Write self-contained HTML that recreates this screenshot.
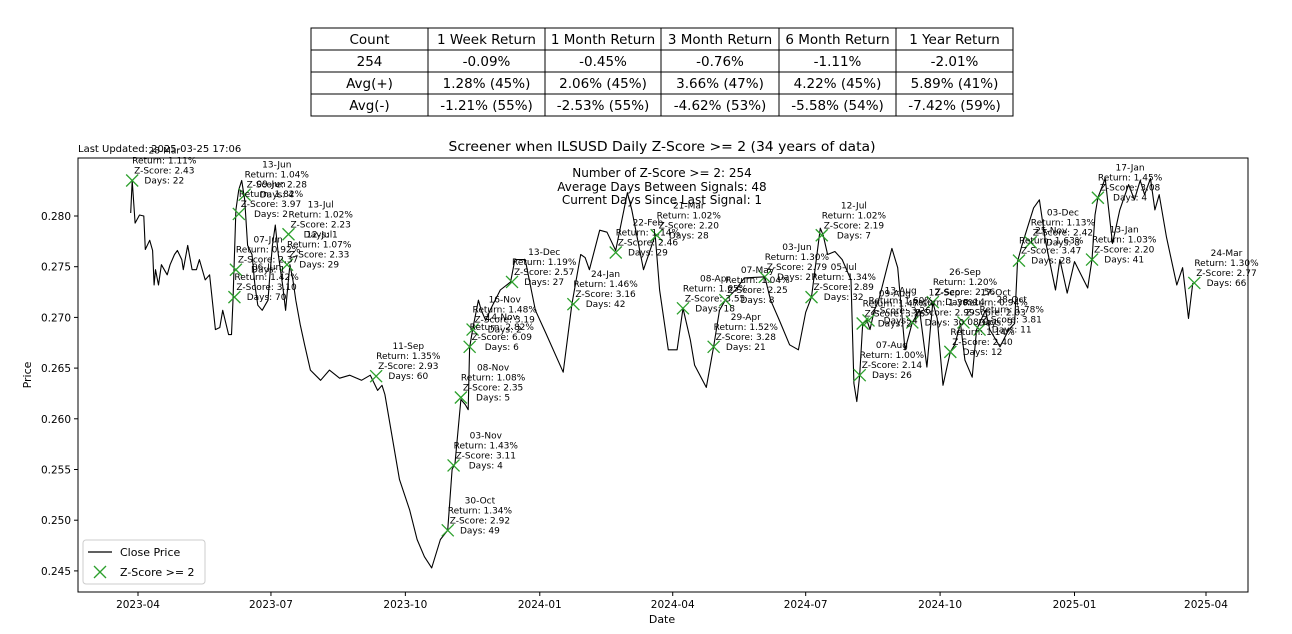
<!DOCTYPE html>
<html><head><meta charset="utf-8">
<style>
html,body{margin:0;padding:0;background:#fff;}
svg{display:block;font-family:"DejaVu Sans","Liberation Sans",sans-serif;}
</style></head>
<body>
<svg id="chart" width="1292" height="634" viewBox="0 0 1292 634" xmlns="http://www.w3.org/2000/svg">
  <rect width="1292" height="634" fill="#fff"/>
  <g id="table"></g>
  <text x="78" y="152" font-size="10" fill="#000">Last Updated: 2025-03-25 17:06</text>
  <text x="662" y="151" font-size="13.5" text-anchor="middle" textLength="427" lengthAdjust="spacingAndGlyphs" fill="#000">Screener when ILSUSD Daily Z-Score &gt;= 2 (34 years of data)</text>
  <rect x="78" y="158" width="1170" height="434" fill="none" stroke="#000" stroke-width="1"/>
  <g id="stats" font-size="12" text-anchor="middle" fill="#000">
    <text x="662" y="177">Number of Z-Score &gt;= 2: 254</text>
    <text x="662" y="191">Average Days Between Signals: 48</text>
    <text x="662" y="204">Current Days Since Last Signal: 1</text>
  </g>
  <g id="xaxis"></g>
  <g id="yaxis"></g>
  <text x="662" y="623" font-size="11" text-anchor="middle">Date</text>
  <text x="0" y="0" font-size="11" text-anchor="middle" transform="translate(31,375) rotate(-90)">Price</text>
  <g id="series"></g>
  <g id="annots" font-size="9" fill="#000"></g>
  <g>
    <rect x="83" y="540" width="122" height="44" rx="3" fill="#fff" fill-opacity="0.8" stroke="#ccc"/>
    <line x1="88" y1="552" x2="112" y2="552" stroke="#000" stroke-width="1.3"/>
    <text x="120" y="556" font-size="11">Close Price</text>
    <g stroke="#2ca02c" stroke-width="1.3"><line x1="94" y1="566" x2="106" y2="578"/><line x1="106" y1="566" x2="94" y2="578"/></g>
    <text x="120" y="576" font-size="11">Z-Score &gt;= 2</text>
  </g>
</svg>
<script>
// Close price series: days since 2023-04-01, price
const lineDays = [-5,-4,-2,1,4,5,8,10,11,12,14,16,20,22,25,27,30,31,34,37,40,42,46,49,53,56,58,62,64,65,67,69,71,73,75,78,80,82,85,87,89,90,92,94,96,99,101,102,104,106,108,111,114,118,125,131,138,145,153,159,164,167,169,179,186,191,196,201,207,212,215,217,221,224,226,227,229,233,235,238,241,248,255,258,265,272,279,291,297,303,306,309,316,321,327,335,338,346,354,357,363,369,373,378,381,389,394,398,402,409,415,429,433,439,446,452,457,461,467,469,472,477,482,488,490,492,494,496,499,501,504,507,516,520,522,525,530,535,540,544,547,551,556,559,563,566,571,574,580,583,590,596,600,602,605,613,617,621,628,631,636,641,650,653,655,657,662,667,672,678,682,686,689,693,696,699,704,711,715,719,722];
const linePrices = [0.2803,0.2835,0.2793,0.2801,0.2800,0.2767,0.2776,0.2766,0.2732,0.2747,0.2732,0.2752,0.2742,0.2752,0.2762,0.2766,0.2757,0.2747,0.2771,0.2747,0.2747,0.2757,0.2737,0.2742,0.2688,0.2690,0.2707,0.2683,0.2683,0.2717,0.2806,0.2826,0.2835,0.2816,0.2771,0.2762,0.2732,0.2712,0.2707,0.2712,0.2717,0.2737,0.2771,0.2791,0.2762,0.2732,0.2707,0.2722,0.2752,0.2737,0.2717,0.2693,0.2673,0.2648,0.2638,0.2648,0.2640,0.2643,0.2638,0.2643,0.2628,0.2633,0.2624,0.2540,0.2510,0.2481,0.2464,0.2453,0.2481,0.2490,0.2550,0.2556,0.2619,0.2614,0.2609,0.2670,0.2688,0.2717,0.2707,0.2697,0.2707,0.2727,0.2735,0.2757,0.2757,0.2707,0.2685,0.2646,0.2713,0.2762,0.2759,0.2747,0.2786,0.2784,0.2766,0.2823,0.2806,0.2747,0.2781,0.2727,0.2668,0.2668,0.2709,0.2678,0.2653,0.2631,0.2671,0.2707,0.2717,0.2727,0.2739,0.2740,0.2717,0.2697,0.2673,0.2668,0.2705,0.2720,0.2788,0.2781,0.2762,0.2765,0.2757,0.2737,0.2635,0.2617,0.2643,0.2694,0.2697,0.2688,0.2707,0.2717,0.2768,0.2749,0.2717,0.2668,0.2695,0.2707,0.2651,0.2715,0.2699,0.2633,0.2666,0.2673,0.2694,0.2658,0.2641,0.2688,0.2707,0.2688,0.2671,0.2688,0.2694,0.2755,0.2771,0.2808,0.2816,0.2776,0.2727,0.2757,0.2724,0.2755,0.2729,0.2757,0.2801,0.2818,0.2837,0.2773,0.2806,0.2831,0.2816,0.2835,0.2821,0.2837,0.2806,0.2821,0.2779,0.2732,0.2749,0.2699,0.2734];
// Signals
const sigLabels = ["28-Mar","06-Jun","07-Jun","09-Jun","13-Jun","12-Jul","13-Jul","11-Sep","30-Oct","03-Nov","08-Nov","14-Nov","16-Nov","13-Dec","24-Jan","22-Feb","21-Mar","08-Apr","29-Apr","07-May","03-Jun","05-Jul","12-Jul","07-Aug","09-Aug","13-Aug","12-Sep","26-Sep","08-Oct","17-Oct","28-Oct","25-Nov","03-Dec","13-Jan","17-Jan","24-Mar"];
const sigDays = [-4,66,67,69,73,102,103,163,212,216,221,227,229,256,298,327,355,373,394,402,429,461,468,494,496,500,530,544,556,565,576,603,611,653,657,723];
const sigPrices = [0.2835,0.2720,0.2747,0.2802,0.2821,0.2752,0.2782,0.2642,0.2490,0.2554,0.2621,0.2671,0.2688,0.2735,0.2713,0.2764,0.2781,0.2709,0.2671,0.2717,0.2740,0.2720,0.2781,0.2643,0.2694,0.2697,0.2695,0.2715,0.2666,0.2695,0.2688,0.2756,0.2774,0.2757,0.2818,0.2734];
const sigReturns = ["1.11","1.42","0.92","1.82","1.04","1.07","1.02","1.35","1.34","1.43","1.08","2.82","1.48","1.19","1.46","1.14","1.02","1.65","1.52","1.04","1.30","1.34","1.02","1.00","1.47","1.60","1.30","1.20","1.14","0.94","1.78","1.63","1.13","1.03","1.45","1.30"];
const sigZ = ["2.43","3.10","2.37","3.97","2.28","2.33","2.23","2.93","2.92","3.11","2.35","6.09","3.19","2.57","3.16","2.46","2.20","3.55","3.28","2.25","2.79","2.89","2.19","2.14","3.16","3.26","2.99","2.56","2.40","2.03","3.81","3.47","2.42","2.20","3.08","2.77"];
const sigGap = [22,70,1,2,4,29,1,60,49,4,5,6,2,27,42,29,28,18,21,8,27,32,7,26,2,4,30,14,12,9,11,28,8,41,4,66];
// Axis ticks
const xTickDays = [0,91,183,275,366,457,549,641,731];
const xTickLabels = ["2023-04","2023-07","2023-10","2024-01","2024-04","2024-07","2024-10","2025-01","2025-04"];
const yTickValues = [0.245,0.250,0.255,0.260,0.265,0.270,0.275,0.280];
// Table
const tableHeader = ["Count","1 Week Return","1 Month Return","3 Month Return","6 Month Return","1 Year Return"];
const tableRows = [
  ["254","-0.09%","-0.45%","-0.76%","-1.11%","-2.01%"],
  ["Avg(+)","1.28% (45%)","2.06% (45%)","3.66% (47%)","4.22% (45%)","5.89% (41%)"],
  ["Avg(-)","-1.21% (55%)","-2.53% (55%)","-4.62% (53%)","-5.58% (54%)","-7.42% (59%)"]
];

const NS = "http://www.w3.org/2000/svg";
function mk(tag, attrs, parent){const e=document.createElementNS(NS,tag);for(const k in attrs)e.setAttribute(k,attrs[k]);parent.appendChild(e);return e;}
const xS = d => 138 + d*1.461;
const yS = p => 216 + (0.280-p)/0.005*50.7;

// table
const tg = document.getElementById('table');
const colX = [311,428,545,661,779,896,1013];
const rowY = [28,50,72,94,116];
const allRows = [tableHeader].concat(tableRows);
for(let r=0;r<allRows.length;r++){
  for(let c=0;c<6;c++){
    const cell = mk('rect',{x:colX[c],y:rowY[r],width:colX[c+1]-colX[c],height:rowY[r+1]-rowY[r],fill:'#fff',stroke:'#000','stroke-width':1},tg);
    
    
    const t = mk('text',{x:(colX[c]+colX[c+1])/2,y:rowY[r]+16,'font-size':13.5,'text-anchor':'middle'},tg);
    
    
    t.textContent = allRows[r][c];
  }
}

// axes
const xg = document.getElementById('xaxis');
xTickDays.forEach((d,i)=>{
  const x=xS(d);
  const tk=mk('line',{x1:x,y1:592,x2:x,y2:596,stroke:'#000'},xg);
  
  
  const t=mk('text',{x:x,y:608,'font-size':10.5,'text-anchor':'middle'},xg);
  
  
  t.textContent=xTickLabels[i];
});
const yg = document.getElementById('yaxis');
yTickValues.forEach(v=>{
  const y=yS(v);
  const tk=mk('line',{x1:74,y1:y,x2:78,y2:y,stroke:'#000'},yg);
  
  
  const t=mk('text',{x:71,y:y+4,'font-size':10.5,'text-anchor':'end'},yg);
  
  
  t.textContent=v.toFixed(3);
});

// line
const sg = document.getElementById('series');
const pts = lineDays.map((d,i)=>xS(d).toFixed(1)+','+yS(linePrices[i]).toFixed(1)).join(' ');
const pl = mk('polyline',{points:pts,fill:'none',stroke:'#000','stroke-width':1.1,'stroke-linejoin':'round'},sg);



// markers + annotations
const ag = document.getElementById('annots');
sigDays.forEach((d,i)=>{
  const x=xS(d), y=yS(sigPrices[i]);
  const g=mk('g',{stroke:'#2ca02c','stroke-width':1.3},sg);
  
  
  mk('line',{x1:x-6,y1:y-6,x2:x+6,y2:y+6},g);
  mk('line',{x1:x+6,y1:y-6,x2:x-6,y2:y+6},g);
  const lines=[sigLabels[i],'Return: '+sigReturns[i]+'%','Z-Score: '+sigZ[i],'Days: '+sigGap[i]];
  const tg2=mk('g',{},ag);
  
  
  const els=lines.map((s,k)=>{const t=mk('text',{x:x,y:y+3-(3-k)*10,'text-anchor':'middle'},tg2);t.textContent=s;return t;});
  let w=0; els.forEach(t=>{try{w=Math.max(w,t.getComputedTextLength());}catch(e){}});
  if(!w) w=62;
  els.forEach(t=>t.setAttribute('x',(x+w/2).toFixed(1)));
});
</script>
</body></html>
